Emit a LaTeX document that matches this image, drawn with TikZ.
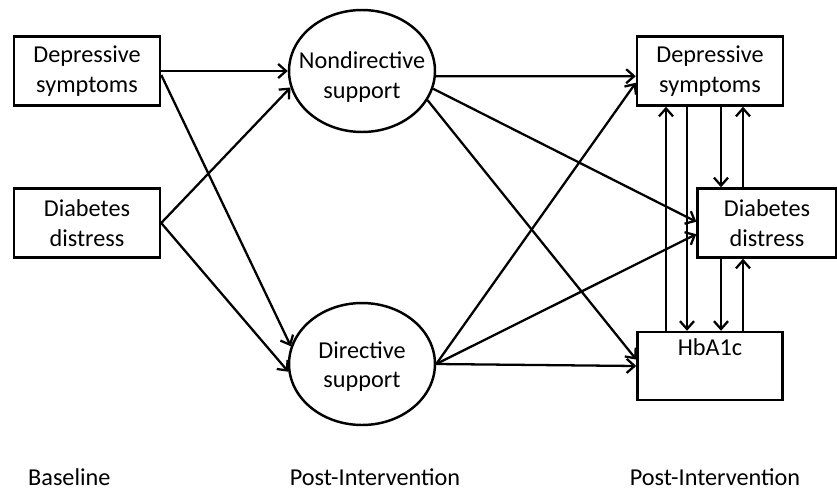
\documentclass[tikz,border=0pt]{standalone}
\usepackage{fontspec}
\setmainfont{Carlito}
\usetikzlibrary{shapes.geometric,arrows.meta}
\tikzstyle{box}=[rectangle, draw=black, line width=1.4pt, minimum width=2.92cm, minimum height=1.38cm, inner sep=0pt, align=center, anchor=center]
\tikzstyle{oval}=[ellipse, draw=black, line width=1.4pt, minimum width=2.92cm, minimum height=2.44cm, inner sep=0pt]
\tikzstyle{annot}=[align=center]
\tikzstyle{link}=[-{Straight Barb[length=4.5pt,width=8pt]}, line width=1.3pt]

\begin{document}
\begin{tikzpicture}[x=0.02cm, y=-0.02cm, font=\fontsize{13.8}{16.8}\selectfont]
	\useasboundingbox (0,0) rectangle (837,490);

	% baseline
	\node[box](ds0) at (87,71){Depressive\\symptoms};
	\node[box](dd0) at (87,223){Diabetes\\distress};

	% support
	\node[oval, label={[annot, yshift=-0.12cm]center:Nondirective\\support}](nds) at (362,71){};
	\node[oval, label={[annot, yshift=-0.05cm]center:Directive\\support}](drs) at (362,364){};

	% outcomes
	\node[box](ds1) at (710,71){Depressive\\symptoms};
	\node[box, minimum width=2.78cm](dd1) at (767,223){Diabetes\\distress};
	\node[box, minimum width=2.9cm, minimum height=1.36cm](hba) at (710,366){HbA1c\\\strut};

	\node[annot, anchor=west](lb0) at (22,477){Baseline};
	\node[annot](lb1) at (375,477){Post-Intervention};
	\node[annot](lb2) at (715,477){Post-Intervention};

	\draw[link] (ds0.east) -- (nds.west);
	\draw[link] (ds0.357) -- (drs.166);
	\draw[link] (dd0.east) -- (nds.193);
	\draw[link] (dd0.east) -- (drs.186);

	\draw[link] (nds.356) -- (ds1.184);
	\draw[link] (nds.346) -- (dd1.179);
	\draw[link] (nds.336) -- (hba.175);
	\draw[link] (drs.east) -- (ds1.189);
	\draw[link] (drs.east) -- (dd1.189);
	\draw[link] (drs.east) -- (hba.west);

	%\coordinate columns for the feedback arrows
	\coordinate (v1) at (666,0);
	\coordinate (v2) at (687,0);
	\coordinate (v3) at (721,0);
	\coordinate (v4) at (743,0);
	\draw[link] (v1 |- hba.north) -- (v1 |- ds1.south);
	\draw[link] (v2 |- ds1.south) -- (v2 |- hba.north);
	\draw[link] (v3 |- ds1.south) -- (v3 |- dd1.north);
	\draw[link] (v4 |- dd1.north) -- (v4 |- ds1.south);
	\draw[link] (v3 |- dd1.south) -- (v3 |- hba.north);
	\draw[link] (v4 |- hba.north) -- (v4 |- dd1.south);
\end{tikzpicture}
\end{document}
